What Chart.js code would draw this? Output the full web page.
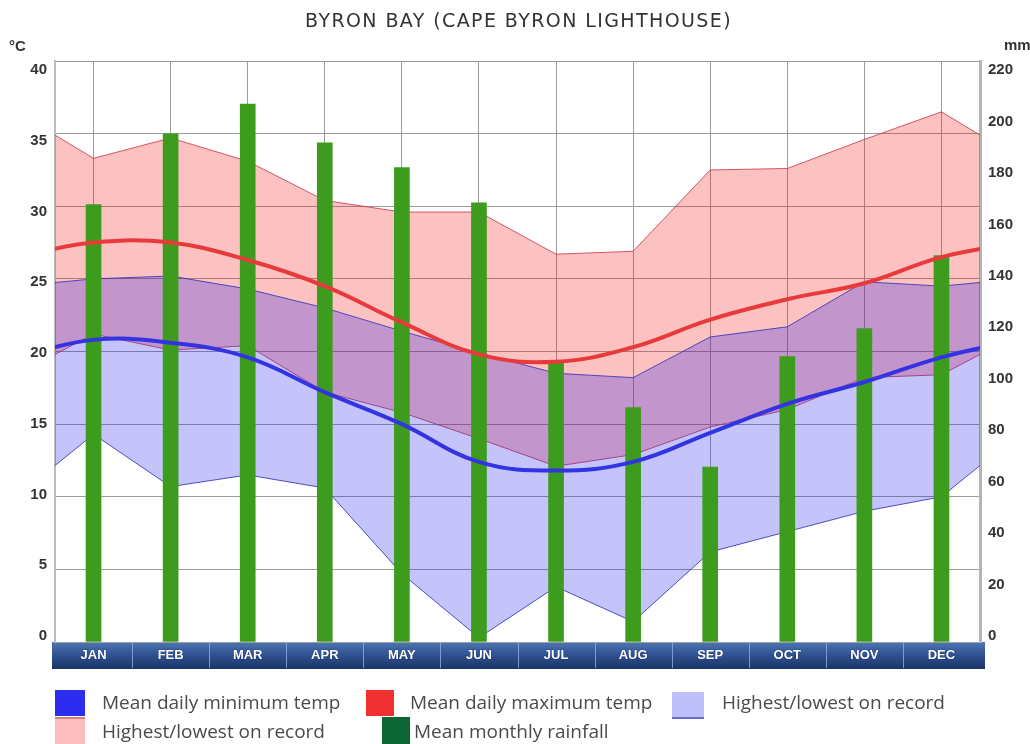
<!DOCTYPE html>
<html>
<head>
<meta charset="utf-8">
<title>Byron Bay climate</title>
<script src="https://cdn.jsdelivr.net/npm/chart.js@4.4.1/dist/chart.umd.min.js"></script>
<style>
  html, body { margin: 0; padding: 0; background: #fff; }
  #wrap { position: relative; width: 1030px; height: 744px; overflow: hidden; }
  #chart { position: absolute; left: 0; top: 0; }
  .key-text { position: absolute; font-family: "Open Sans", sans-serif; font-size: 19px; color: #4a4a4a; line-height: 1; white-space: nowrap; transform: translateY(-50%); }
  .key-box { position: absolute; box-sizing: border-box; }
</style>
</head>
<body>
<div id="wrap">
  <canvas id="chart" width="1030" height="744"></canvas>
  <div id="legend"></div>
</div>
<script>
// Station and labels
const title = 'BYRON BAY (CAPE BYRON LIGHTHOUSE)';
const tempUnit = '°C';
const rainUnit = 'mm';
const months = ['JAN', 'FEB', 'MAR', 'APR', 'MAY', 'JUN', 'JUL', 'AUG', 'SEP', 'OCT', 'NOV', 'DEC'];

// Monthly climate values
const rainfall = [165.6, 192.4, 203.7, 189.0, 179.6, 166.3, 105.8, 88.8, 66.2, 108.1, 118.7, 146.3];
const meanMax  = [27.5, 27.5, 26.3, 24.5, 22.0, 19.8, 19.3, 20.3, 22.2, 23.6, 24.7, 26.5];
const meanMin  = [20.8, 20.6, 19.6, 17.2, 15.0, 12.4, 11.8, 12.4, 14.4, 16.4, 17.9, 19.6];
const highMax  = [33.3, 34.7, 33.1, 30.4, 29.6, 29.6, 26.7, 26.9, 32.5, 32.6, 34.6, 36.5];
const lowMax   = [21.2, 20.1, 20.4, 17.2, 15.8, 14.0, 12.1, 12.9, 14.8, 16.0, 18.2, 18.4];
const highMin  = [25.0, 25.2, 24.3, 23.0, 21.4, 19.9, 18.5, 18.2, 21.0, 21.7, 24.8, 24.5];
const lowMin   = [14.3, 10.7, 11.5, 10.6, 4.7, 0.3, 3.8, 1.4, 6.2, 7.6, 9.0, 10.0];

// Axis ranges
const tempMin = 0, tempMax = 40, tempStep = 5;
const rainMin = 0, rainMax = 220, rainStep = 20;

// Legend entries
const legendRows = [
  [
    { text: 'Mean daily minimum temp', fill: '#2d2df0', edge: null, box: [55, 690, 30, 26], textX: 102 },
    { text: 'Mean daily maximum temp', fill: '#f03030', edge: null, box: [366, 690, 28, 26], textX: 410 },
    { text: 'Highest/lowest on record', fill: '#bfc0fa', edge: 'bottom:2px solid #6a6ad0', box: [672, 692, 32, 27], textX: 722 }
  ],
  [
    { text: 'Highest/lowest on record', fill: '#fbbdbd', edge: 'top:2px solid #d08080', box: [55, 717, 30, 27], textX: 102 },
    { text: 'Mean monthly rainfall', fill: '#0b6636', edge: null, box: [382, 717, 28, 27], textX: 414 }
  ]
];
const legendRowY = [702, 731];

// Points placed at month centres on a 0..12 axis; December is repeated before
// January and January after December so each curve wraps across the frame edges.
function yearLoop(values) {
  const n = values.length;
  const pts = values.map((v, i) => ({ x: i + 0.5, y: v }));
  return [{ x: -0.5, y: values[n - 1] }, ...pts, { x: n + 0.5, y: values[0] }];
}

const tickFont = { family: 'Arial, "Liberation Sans", sans-serif', size: 15, weight: 'bold' };
const gridColor = '#9c9c9c';

// Month band under the plot
const monthBand = {
  id: 'monthBand',
  beforeDraw(chart) {
    const { ctx, chartArea } = chart;
    const xs = chart.scales.x;
    const top = xs.top, bottom = xs.bottom;
    const left = chartArea.left - 3, right = chartArea.right + 5;
    const g = ctx.createLinearGradient(0, top, 0, bottom);
    g.addColorStop(0, '#4e76b3');
    g.addColorStop(0.5, '#2f5090');
    g.addColorStop(1, '#1a3465');
    ctx.save();
    ctx.fillStyle = g;
    ctx.fillRect(left, top, right - left, bottom - top);
    ctx.strokeStyle = 'rgba(150,180,230,0.75)';
    ctx.lineWidth = 1;
    for (let i = 0; i < months.length - 1; i++) {
      const bx = Math.round((xs.getPixelForTick(i) + xs.getPixelForTick(i + 1)) / 2) + 0.5;
      ctx.beginPath();
      ctx.moveTo(bx, top + 1);
      ctx.lineTo(bx, bottom - 1);
      ctx.stroke();
    }
    ctx.restore();
  }
};

// Value labels on both vertical axes sit in a slightly narrower span than the grid
const tickLabelSpread = {
  id: 'tickLabelSpread',
  beforeDraw(chart) {
    const area = chart.chartArea;
    ['y', 'y2'].forEach(id => {
      const s = chart.scales[id];
      if (!s || !s.getLabelItems) return;
      const items = s.getLabelItems(area);
      if (!items || items._spread) return;
      items.forEach(it => {
        const t = it.options && it.options.translation;
        if (!t) return;
        t[1] = area.top + 9 + (t[1] - area.top) * (area.height - 15) / area.height;
      });
      items._spread = true;
    });
  }
};

// Title and unit captions
const captions = {
  id: 'captions',
  afterDraw(chart) {
    const { ctx, chartArea } = chart;
    ctx.save();
    ctx.fillStyle = '#333';
    ctx.textBaseline = 'middle';
    ctx.textAlign = 'center';
    ctx.font = '19px "DejaVu Sans", sans-serif';
    if ('letterSpacing' in ctx) ctx.letterSpacing = '1.4px';
    ctx.fillText(title, (chartArea.left + chartArea.right) / 2 + 1, 22);
    if ('letterSpacing' in ctx) ctx.letterSpacing = '0px';
    ctx.font = 'bold 15px Arial, "Liberation Sans", sans-serif';
    ctx.textAlign = 'left';
    ctx.fillText(tempUnit, 9, 47);
    ctx.fillText(rainUnit, 1004, 46);
    ctx.restore();
  }
};

const recordLine = (label, values, color, fill, bg, order) => ({
  type: 'line', label, data: yearLoop(values), xAxisID: 'xl', yAxisID: 'y',
  borderColor: color, borderWidth: 1, backgroundColor: bg || 'transparent',
  fill: fill, tension: 0, pointRadius: 0, order, clip: 0
});

const meanLine = (label, values, color, order) => ({
  type: 'line', label, data: yearLoop(values), xAxisID: 'xl', yAxisID: 'y',
  borderColor: color, borderWidth: 4, fill: false, tension: 0.4,
  pointRadius: 0, order, clip: 0, borderCapStyle: 'round'
});

new Chart(document.getElementById('chart'), {
  type: 'bar',
  data: {
    labels: months,
    datasets: [
      recordLine('Highest max on record', highMax, 'rgba(200,50,70,0.8)', '+1', 'rgba(245,20,20,0.26)', 7),
      recordLine('Lowest max on record', lowMax, 'rgba(200,50,70,0.8)', false, null, 6),
      recordLine('Highest min on record', highMin, 'rgba(50,50,185,0.85)', '+1', 'rgba(20,20,240,0.25)', 5),
      recordLine('Lowest min on record', lowMin, 'rgba(50,50,185,0.85)', false, null, 4),
      {
        type: 'bar', label: 'Mean monthly rainfall', data: rainfall,
        xAxisID: 'x', yAxisID: 'y2', backgroundColor: '#3d9b1d',
        barThickness: 15, grouped: false, order: 2
      },
      meanLine('Mean daily maximum temp', meanMax, '#e83a3a', 1),
      meanLine('Mean daily minimum temp', meanMin, '#3333e2', 0)
    ]
  },
  options: {
    responsive: false,
    animation: false,
    events: [],
    layout: { padding: { top: 61, bottom: 75, left: 0, right: 0 } },
    plugins: {
      legend: { display: false },
      tooltip: { enabled: false },
      title: { display: false }
    },
    scales: {
      x: {
        type: 'category', position: 'bottom', offset: true,
        grid: { offset: false, color: gridColor, lineWidth: 1, drawTicks: false },
        border: { display: false },
        ticks: {
          color: '#ffffff', padding: 6, maxRotation: 0, autoSkip: false,
          font: { family: 'Arial, "Liberation Sans", sans-serif', size: 13, weight: 'bold' },
          textStrokeColor: 'rgba(10,25,60,0.35)', textStrokeWidth: 1
        },
        afterFit(s) { s.height = 27; }
      },
      xl: {
        type: 'linear', display: false, offset: false, bounds: 'data',
        min: 0, max: months.length, grid: { offset: false }
      },
      y: {
        position: 'left', min: tempMin, max: tempMax,
        ticks: { stepSize: tempStep, color: '#333', font: tickFont, padding: 8 },
        grid: { color: gridColor, lineWidth: 1, drawTicks: false },
        border: { color: '#bdbdbd', width: 2 },
        afterFit(s) { s.width = 55; }
      },
      y2: {
        position: 'right', min: rainMin, max: rainMax,
        ticks: { stepSize: rainStep, color: '#333', font: tickFont, padding: 8 },
        grid: { drawOnChartArea: false, drawTicks: false },
        border: { color: '#b4b4b4', width: 3 },
        afterFit(s) { s.width = 50; }
      }
    }
  },
  plugins: [monthBand, tickLabelSpread, captions]
});

// Legend
const legend = document.getElementById('legend');
legendRows.forEach((row, r) => {
  row.forEach(item => {
    const box = document.createElement('div');
    box.className = 'key-box';
    const [bx, by, bw, bh] = item.box;
    box.style.cssText = `left:${bx}px;top:${by}px;width:${bw}px;height:${bh}px;background:${item.fill};` + (item.edge ? `border-${item.edge};` : '');
    legend.appendChild(box);
    const txt = document.createElement('div');
    txt.className = 'key-text';
    txt.style.left = item.textX + 'px';
    txt.style.top = legendRowY[r] + 'px';
    txt.textContent = item.text;
    legend.appendChild(txt);
  });
});
</script>
</body>
</html>
